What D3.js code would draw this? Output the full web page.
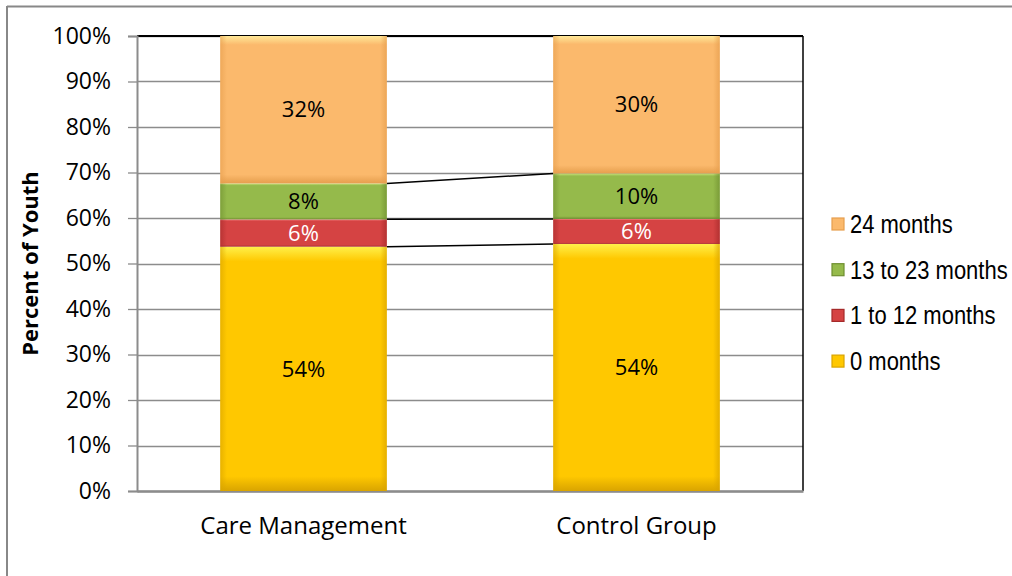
<!DOCTYPE html>
<html>
<head>
<meta charset="utf-8">
<script src="https://d3js.org/d3.v7.min.js"></script>
<style>
  body { margin: 0; background: #fff; }
  text { fill: #000; }
</style>
</head>
<body>
<div id="vis"></div>
<script>
  // Data
  var categories = ["Care Management", "Control Group"];
  var seriesNames = ["0 months", "1 to 12 months", "13 to 23 months", "24 months"];
  var zeroMonths = [53.7, 54.3];
  var oneTo12 = [6.0, 5.5];
  var thirteenTo23 = [7.9, 10.0];
  var twentyFour = [32.4, 30.2];
  var yTicks = [0, 10, 20, 30, 40, 50, 60, 70, 80, 90, 100];

  var seriesValues = [zeroMonths, oneTo12, thirteenTo23, twentyFour];
  var colors = [
    { main: "#FFC800", light: "#FFF04A", dark: "#D9A400" },
    { main: "#D54343", light: "#F88888", dark: "#A52A2A" },
    { main: "#95BA4B", light: "#C9E27C", dark: "#6F8F30" },
    { main: "#FBB96C", light: "#FFE898", dark: "#E69E4E" }
  ];
  var labelColors = ["#000", "#fff", "#000", "#000"];
  var calibriLike = "'Open Sans', 'Noto Sans', sans-serif";

  // Layout
  var W = 1012, H = 576;
  var margin = { top: 36, right: 209, bottom: 85, left: 137 };
  var width = W - margin.left - margin.right;
  var height = H - margin.top - margin.bottom;

  var svg = d3.select("#vis").append("svg")
    .attr("width", W)
    .attr("height", H);

  // Gradients for the glossy bars
  var defs = svg.append("defs");
  colors.forEach(function (c, i) {
    var g = defs.append("linearGradient")
      .attr("id", "grad" + i)
      .attr("x1", 0).attr("y1", 0).attr("x2", 0).attr("y2", 1);
    g.append("stop").attr("offset", "0%").attr("stop-color", c.light);
    g.append("stop").attr("offset", "6%").attr("stop-color", c.main);
    g.append("stop").attr("offset", "94%").attr("stop-color", c.main);
    g.append("stop").attr("offset", "100%").attr("stop-color", c.dark);
    var h = defs.append("linearGradient")
      .attr("id", "side" + i)
      .attr("x1", 0).attr("y1", 0).attr("x2", 1).attr("y2", 0);
    h.append("stop").attr("offset", "0%").attr("stop-color", c.dark).attr("stop-opacity", 0.6);
    h.append("stop").attr("offset", "4%").attr("stop-color", c.dark).attr("stop-opacity", 0);
    h.append("stop").attr("offset", "96%").attr("stop-color", c.dark).attr("stop-opacity", 0);
    h.append("stop").attr("offset", "100%").attr("stop-color", c.dark).attr("stop-opacity", 0.7);
  });

  // Outer frame
  svg.append("line").attr("x1", 7).attr("x2", W).attr("y1", 6.5).attr("y2", 6.5)
    .attr("stroke", "#888").attr("stroke-width", 2);
  svg.append("line").attr("x1", 7).attr("x2", 7).attr("y1", 6).attr("y2", H)
    .attr("stroke", "#888").attr("stroke-width", 2);

  var g = svg.append("g")
    .attr("transform", "translate(" + margin.left + "," + margin.top + ")");

  // Scales
  var x = d3.scaleBand().domain(categories).range([0, width]).paddingInner(0.5).paddingOuter(0.25);
  var y = d3.scaleLinear().domain([0, 100]).range([height, 0]);

  // Gridlines
  g.append("g")
    .selectAll("line")
    .data(yTicks)
    .enter().append("line")
    .attr("x1", 0).attr("x2", width)
    .attr("y1", function (d) { return Math.round(y(d)) + 0.5; })
    .attr("y2", function (d) { return Math.round(y(d)) + 0.5; })
    .attr("stroke", "#8c8c8c").attr("stroke-width", 1.3);

  // Plot border: black top and right
  g.append("line").attr("x1", 0).attr("x2", width).attr("y1", 0).attr("y2", 0)
    .attr("stroke", "#000").attr("stroke-width", 2);
  g.append("line").attr("x1", width).attr("x2", width).attr("y1", 0).attr("y2", height)
    .attr("stroke", "#000").attr("stroke-width", 1.5);

  // Y axis
  var yAxis = g.append("g")
    .call(d3.axisLeft(y).tickValues(yTicks).tickFormat(function (d) { return d + "%"; })
      .tickSize(9).tickPadding(17));
  yAxis.select(".domain").attr("stroke", "#8c8c8c").attr("stroke-width", 2);
  yAxis.selectAll(".tick line").attr("stroke", "#8c8c8c").attr("stroke-width", 1.3);
  yAxis.selectAll("text")
    .style("font-family", calibriLike)
    .style("font-size", "23px");

  // X axis
  var xAxis = g.append("g")
    .attr("transform", "translate(0," + height + ")")
    .call(d3.axisBottom(x).tickSize(0).tickPadding(26));
  xAxis.select(".domain").attr("stroke", "#8c8c8c").attr("stroke-width", 2.5);
  xAxis.selectAll("text")
    .style("font-family", calibriLike)
    .style("font-size", "24px");

  // Stack data
  var stacked = categories.map(function (c, ci) {
    var acc = 0;
    return seriesValues.map(function (vals, si) {
      var seg = { cat: c, series: si, y0: acc, y1: acc + vals[ci], value: vals[ci] };
      acc += vals[ci];
      return seg;
    });
  });
  var segments = [].concat.apply([], stacked);

  // Series lines between bars
  seriesValues.forEach(function (vals, si) {
    var a = stacked[0][si].y1, b = stacked[1][si].y1;
    g.append("line")
      .attr("x1", x(categories[0]) + x.bandwidth())
      .attr("x2", x(categories[1]))
      .attr("y1", y(a)).attr("y2", y(b))
      .attr("stroke", "#000").attr("stroke-width", 1.5);
  });

  // Bars
  var bars = g.append("g").selectAll("g")
    .data(segments)
    .enter().append("g");
  bars.append("rect")
    .attr("x", function (d) { return x(d.cat); })
    .attr("y", function (d) { return y(d.y1); })
    .attr("width", x.bandwidth())
    .attr("height", function (d) { return y(d.y0) - y(d.y1); })
    .attr("fill", function (d) { return "url(#grad" + d.series + ")"; });
  bars.append("rect")
    .attr("x", function (d) { return x(d.cat); })
    .attr("y", function (d) { return y(d.y1); })
    .attr("width", x.bandwidth())
    .attr("height", function (d) { return y(d.y0) - y(d.y1); })
    .attr("fill", function (d) { return "url(#side" + d.series + ")"; });

  // Data labels
  bars.append("text")
    .attr("x", function (d) { return x(d.cat) + x.bandwidth() / 2; })
    .attr("y", function (d) { return (y(d.y0) + y(d.y1)) / 2; })
    .attr("dy", "0.35em")
    .attr("text-anchor", "middle")
    .style("font-family", calibriLike)
    .style("font-size", "22px")
    .style("fill", function (d) { return labelColors[d.series]; })
    .text(function (d) { return Math.round(d.value) + "%"; });

  // Y axis title
  svg.append("text")
    .attr("transform", "translate(38," + (margin.top + height / 2) + ") rotate(-90)")
    .attr("text-anchor", "middle")
    .style("font-family", calibriLike)
    .style("font-weight", "bold")
    .style("font-size", "22px")
    .text("Percent of Youth");

  // Legend (reverse order, top = 24 months)
  var legendItems = seriesNames.map(function (n, i) { return { name: n, series: i }; }).reverse();
  var legend = svg.append("g").attr("transform", "translate(832,224)");
  var li = legend.selectAll("g")
    .data(legendItems)
    .enter().append("g")
    .attr("transform", function (d, i) { return "translate(0," + (i * 45.7) + ")"; });
  li.append("rect")
    .attr("x", 0).attr("y", -6).attr("width", 12).attr("height", 12)
    .attr("fill", function (d) { return colors[d.series].main; })
    .attr("stroke", function (d) { return colors[d.series].dark; })
    .attr("stroke-width", 1.2);
  li.append("text")
    .attr("transform", "translate(18,0) scale(0.88,1)")
    .attr("dy", "0.36em")
    .style("font-family", "'Liberation Sans', Arial, sans-serif")
    .style("font-size", "25px")
    .text(function (d) { return d.name; });
</script>
</body>
</html>
